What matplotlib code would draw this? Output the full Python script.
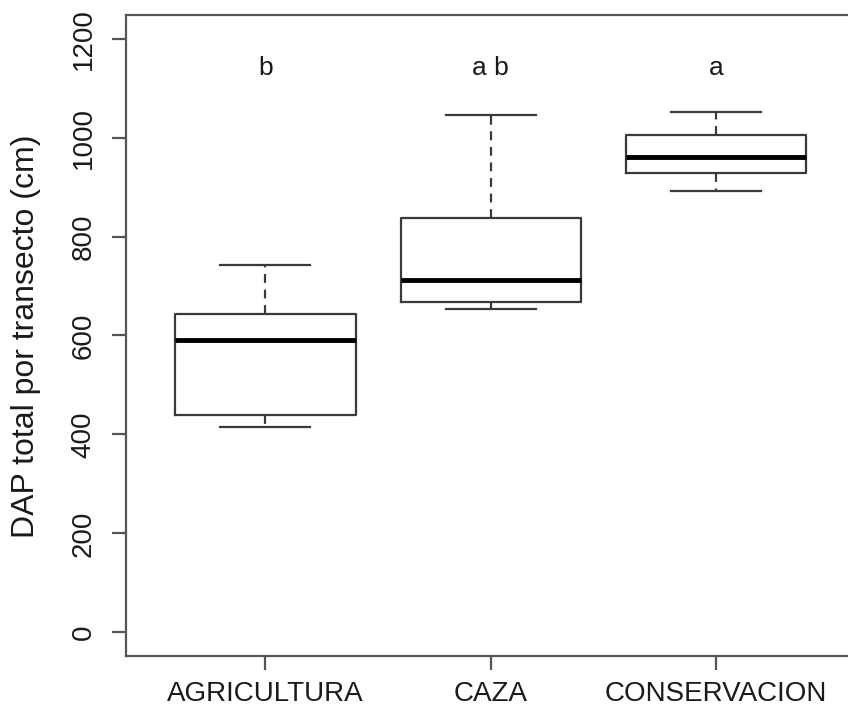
import matplotlib
matplotlib.use("Agg")
import matplotlib.pyplot as plt

plt.rcParams['font.family'] = ['Liberation Sans', 'DejaVu Sans']

groups = ["AGRICULTURA", "CAZA", "CONSERVACION"]
whisk_lo = [415, 653, 892]
q1 = [440, 667, 928]
medians = [591, 712, 960]
q3 = [643, 837, 1006]
whisk_hi = [743, 1045, 1051]
letters = ["b", "a b", "a"]
letter_y = 1140

ink = "#3a3a3a"

stats = []
for i in range(len(groups)):
    stats.append({"whislo": whisk_lo[i], "q1": q1[i], "med": medians[i],
                  "q3": q3[i], "whishi": whisk_hi[i], "fliers": []})

fig = plt.figure(figsize=(8.48, 7.11), dpi=100)
ax = fig.add_axes([0.1482, 0.0774, 0.861, 0.9015])

ax.bxp(stats, positions=[1, 2, 3], widths=0.8, capwidths=0.4,
       showfliers=False, patch_artist=False,
       boxprops=dict(color=ink, linewidth=1.6),
       medianprops=dict(color="black", linewidth=3.5, solid_capstyle="butt"),
       whiskerprops=dict(color=ink, linewidth=1.6, linestyle=(0, (4, 3))),
       capprops=dict(color=ink, linewidth=1.6))

for i, t in enumerate(letters):
    ax.text(i + 1, letter_y, t, ha="center", va="center", fontsize=19, color="#1a1a1a")

ax.set_xlim(0.38, 3.62)
ax.set_ylim(-48, 1248)
ax.set_xticks([1, 2, 3])
ax.set_xticklabels(groups)
ax.set_yticks([0, 200, 400, 600, 800, 1000, 1200])

for s in ax.spines.values():
    s.set_color("#555555")
    s.set_linewidth(1.6)

ax.tick_params(axis="both", colors="#555555", labelcolor="#1a1a1a",
               length=10, width=1.6, labelsize=20)
ax.tick_params(axis="x", pad=8)
ax.tick_params(axis="y", pad=11)
for lab in ax.get_yticklabels():
    lab.set_rotation(90)
    lab.set_va("center")

ax.set_ylabel("DAP total por transecto (cm)", fontsize=23, color="#1a1a1a")
ax.yaxis.set_label_coords(-0.116, 0.499)

fig.savefig("out.png", dpi=100)
